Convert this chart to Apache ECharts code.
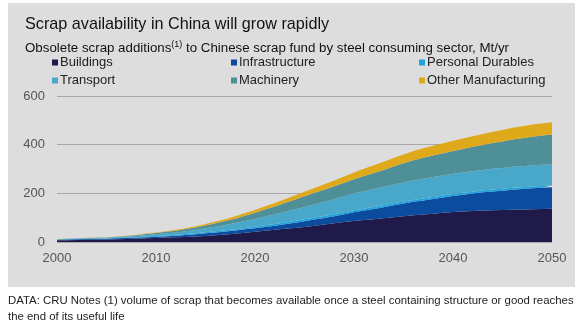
<!DOCTYPE html>
<html>
<head>
<meta charset="utf-8">
<script src="https://cdn.jsdelivr.net/npm/echarts@6/dist/echarts.min.js"></script>
<style>
html,body{margin:0;padding:0;background:#fff;}
#c{width:584px;height:326px;}
</style>
</head>
<body>
<div id="c"></div>
<script>
const years = [];
for (let y = 2000; y <= 2050; y++) years.push(String(y));
const xTickLabels = ['2000','2010','2020','2030','2040','2050'];
const yTicks = [0, 200, 400, 600];

const seriesNames = ['Buildings','Infrastructure','Personal Durables','Transport','Machinery','Other Manufacturing'];
const seriesColors = ['#201a4b','#0c4c9e','#1fa3df','#49a8ca','#4e8f98','#dfa91c'];

const buildings = [7,7.5,8,9,9.5,10,11,12,13.5,15,16.5,18,19.5,21,23,25,28,31,34,38,42,46,50,54,58,62,67,72,77,82,86,90,94,98,102,106,110,113,116,120,123,125,127,129,130,131,133,134,135,136,137];
const infrastructure = [2,2.5,3,3,3,3,4,4.5,4.5,5,5.5,6,6.5,8,9,11,11.5,12,13,14,15,16,17,19,21,23,25,27,29,32,36,39,42,45,49,52,55,58,61,63,66,69,72,75,78,80,82,84,86,87,88];
const personalDurables = [1,1,1,1.5,1.5,1.5,2,2,2,2.5,2.5,3,3,3.5,3.5,4,4.5,5,5,5.5,6,6.5,7,7,7.5,8,8,8,8,8,8,8,8,8,8,8,8,8,8,8,8,8,8,8,8,8,8,7.5,7.5,7,7];
const transport = [1,1.5,1.5,2,2,2.5,3.5,4,5,6.5,7.5,9,10.5,12,14,16,19,22,26,29,32,36,39,43,47,51,55,58,62,66,70,72,74,76,77,79,80,81,82,83,83,83.5,84,84,85,85,86,86,86.5,87,87];
const machinery = [0.5,0.5,0.5,1,1,1,1.5,2,3,4,5,6,7,8.5,10,12,14,16,18,21.5,25,29,33,37,40.5,44,47,50,53,55.5,58,62,65.5,69,74,78.5,83,86,88.5,91,94,97,100,103,106,109,112,115,118,120.5,123];
const otherManufacturing = [0.5,0.5,0.5,0.5,1,1,1,1,1,1.5,2,2.5,3.5,4,5,6,7,8,9.5,11,12,13,14.5,15.5,17,18,20,22,24,26,28,30,32,34,35,36.5,38,39,40,41,42,43,44,45,46,47,48.5,49,49.5,50,50];

const seriesData = [buildings, infrastructure, personalDurables, transport, machinery, otherManufacturing];

const FONT = '"Liberation Sans", Arial, sans-serif';
const chart = echarts.init(document.getElementById('c'), null, {renderer: 'canvas'});

const legendBase = {
  orient: 'vertical', icon: 'rect', itemWidth: 6, itemHeight: 6, itemGap: 5,
  textStyle: {fontFamily: FONT, fontSize: 13, color: '#222', padding: [0,0,0,-3]},
  selectedMode: false
};

chart.setOption({
  animation: false,
  backgroundColor: '#ffffff',
  graphic: [
    {type: 'rect', left: 8, top: 3, shape: {width: 567, height: 284}, style: {fill: '#dddddd'}, z: -10},
    {type: 'text', left: 8, top: 293, style: {text: 'DATA: CRU Notes (1) volume of scrap that becomes available once a steel containing structure or good reaches\nthe end of its useful life', font: '11.4px ' + FONT, fill: '#222', lineHeight: 16}}
  ],
  title: {
    text: 'Scrap availability in China will grow rapidly',
    left: 20, top: 12,
    textStyle: {fontFamily: FONT, fontSize: 16.2, fontWeight: 'normal', color: '#111'},
    subtext: '{a|Obsolete scrap additions}{s|(1)}{a| to Chinese scrap fund by steel consuming sector, Mt/yr}',
    itemGap: 7,
    subtextStyle: {
      rich: {
        a: {fontFamily: FONT, fontSize: 13.3, color: '#111', lineHeight: 16},
        s: {fontFamily: FONT, fontSize: 9, color: '#111', verticalAlign: 'top', lineHeight: 12}
      }
    }
  },
  legend: [
    Object.assign({}, legendBase, {left: 47, top: 51, data: [seriesNames[0], seriesNames[3]]}),
    Object.assign({}, legendBase, {left: 226, top: 51, data: [seriesNames[1], seriesNames[4]]}),
    Object.assign({}, legendBase, {left: 414, top: 51, data: [seriesNames[2], seriesNames[5]]})
  ],
  grid: {left: 57, right: 32, top: 96, bottom: 84, containLabel: false},
  xAxis: {
    type: 'category', data: years, boundaryGap: false,
    axisLine: {show: false}, axisTick: {show: false},
    axisLabel: {
      interval: 0, fontFamily: FONT, fontSize: 13, color: '#555', margin: 10,
      formatter: v => xTickLabels.indexOf(v) >= 0 ? v : ''
    },
    splitLine: {show: false}
  },
  yAxis: {
    type: 'value', min: yTicks[0], max: yTicks[yTicks.length-1], interval: 200,
    axisLine: {show: false}, axisTick: {show: false},
    axisLabel: {fontFamily: FONT, fontSize: 13, color: '#555', margin: 12},
    splitLine: {lineStyle: {color: '#a8a8a8', width: 1}}
  },
  series: seriesNames.map((n, i) => ({
    name: n, type: 'line', stack: 'total', data: seriesData[i],
    symbol: 'none', smooth: false,
    lineStyle: {width: 0},
    itemStyle: {color: seriesColors[i]},
    areaStyle: {color: seriesColors[i], opacity: 1}
  }))
});
</script>
</body>
</html>
